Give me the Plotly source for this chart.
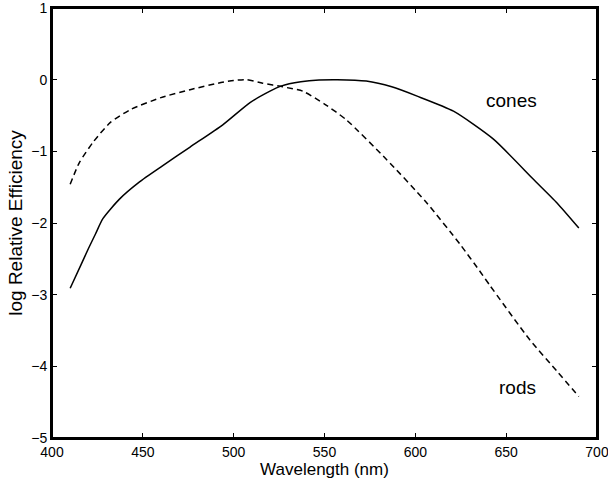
import plotly.graph_objects as go

cones_wl = [410, 416, 420, 424, 428, 437, 448, 461, 476, 494, 509, 520, 526, 537, 547, 557, 573, 587, 601, 621, 643, 665, 678, 690]
cones_eff = [-2.91, -2.58, -2.36, -2.15, -1.94, -1.67, -1.43, -1.20, -0.94, -0.63, -0.32, -0.16, -0.09, -0.03, -0.005, 0.0, -0.02, -0.10, -0.23, -0.44, -0.83, -1.39, -1.72, -2.07]

rods_wl = [410, 415, 423, 432, 443, 460, 476, 493, 500, 507, 516, 527, 538, 550, 562, 584, 606, 625, 636, 641, 663, 678, 690]
rods_eff = [-1.46, -1.16, -0.86, -0.60, -0.42, -0.25, -0.14, -0.04, -0.01, 0.0, -0.05, -0.10, -0.16, -0.34, -0.56, -1.11, -1.71, -2.31, -2.69, -2.87, -3.63, -4.07, -4.42]

labels = ["cones", "rods"]
label_x = [653, 656]
label_y = [-0.29, -4.29]

x_ticks = [400, 450, 500, 550, 600, 650, 700]
y_ticks = [-5, -4, -3, -2, -1, 0, 1]

font_family = "Liberation Sans, Arial, Helvetica, sans-serif"

fig = go.Figure()
fig.add_trace(go.Scatter(x=cones_wl, y=cones_eff, mode="lines",
                         line=dict(color="black", width=1.5, shape="spline", smoothing=0.6),
                         showlegend=False))
fig.add_trace(go.Scatter(x=rods_wl, y=rods_eff, mode="lines",
                         line=dict(color="black", width=1.5, dash="6px,4px", shape="spline", smoothing=0.6),
                         showlegend=False))

for t, xx, yy in zip(labels, label_x, label_y):
    fig.add_annotation(x=xx, y=yy, text=t, showarrow=False,
                       font=dict(family=font_family, size=19, color="black"),
                       xanchor="center", yanchor="middle")

axis_common = dict(showgrid=False, zeroline=False, showline=True, linecolor="black",
                   linewidth=2, mirror="allticks", ticks="inside", ticklen=5,
                   tickwidth=1, tickcolor="black",
                   tickfont=dict(family=font_family, size=14, color="black"),
                   ticklabeloverflow="allow",
                   automargin=False)

fig.update_xaxes(range=[399.999, 700.001], tickvals=x_ticks,
                 title=dict(text="Wavelength (nm)", font=dict(family=font_family, size=17, color="black"), standoff=4),
                 **axis_common)
fig.update_yaxes(range=[-5.0001, 1.0001], tickvals=y_ticks,
                 title=dict(text="log Relative Efficiency", font=dict(family=font_family, size=19, color="black"), standoff=4),
                 **axis_common)

fig.add_shape(type="rect", xref="paper", yref="paper", x0=0, x1=1, y0=0, y1=1,
              line=dict(color="black", width=2), fillcolor="rgba(0,0,0,0)", layer="above")

fig.update_layout(width=608, height=480, margin=dict(l=52, r=11, t=8, b=42),
                  paper_bgcolor="white", plot_bgcolor="white")

fig.write_html("out.html")
